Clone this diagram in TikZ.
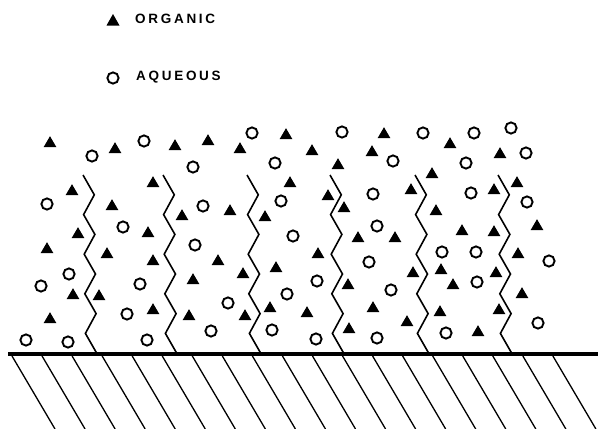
\documentclass[tikz,border=0pt]{standalone}
\usepackage{fontspec}
\newfontfamily\legendfont[LetterSpace=20]{Liberation Sans}

\tikzset{
    organic/.style={fill=black},
    aqueous/.style={line width=1.9pt},
    wavy/.style={line width=1.6pt, line join=miter},
    hatch/.style={line width=1.3pt},
    legend/.style={anchor=west, inner sep=0pt,
        font=\legendfont\fontsize{13.5}{14}\selectfont\bfseries},
}

\begin{document}
\begin{tikzpicture}[x=1pt, y=-1pt]

    \useasboundingbox (0,0) rectangle (598,429);

    % legend
    \fill [organic]
        (106.5,25.5) -- (119.5,25.5) -- (113,14) -- cycle
        ;
    \draw [aqueous]
        (113,78) circle (5.6)
        ;
    \node [legend] (orglabel) at (135,19) {ORGANIC};
    \node [legend] (aqlabel) at (136,77) {AQUEOUS};

    % surface
    \draw [line width=3.2pt]
        (8,354) -- (598,354)
        ;
    \foreach \k in {0,...,18}
        \draw [hatch] (12+30.05*\k,356) -- ++(43,73);

    % chains
    \foreach \xo in {83,163,247,330,415,498}
        \draw [wavy] (\xo,175)
            \foreach \k in {1,...,9} { -- ({\xo+0.3*\k+11*mod(\k,2)},{175+19.8*\k}) }
            ;

    % organic molecules
    \foreach \x/\y in {
        50/142, 115/148, 175/145, 72/190, 153/182, 112/205, 182/215,
        78/233, 148/232, 47/248, 107/253, 153/260, 193/279, 73/294,
        99/295, 50/318, 153/309, 189/315,
        208/140, 240/148, 286/134, 312/150, 384/133, 372/151, 338/164,
        290/182, 230/210, 265/216, 328/195, 344/207, 358/237, 395/237,
        318/253, 218/260, 276/267, 243/273, 348/284, 270/307, 245/315,
        307/312, 373/307, 349/328,
        450/143, 500/153, 432/173, 517/182, 411/189, 494/189, 436/210,
        537/225, 462/230, 494/231, 518/253, 413/272, 441/269, 496/272,
        453/284, 522/293, 440/311, 499/309, 407/321, 478/331}
        \fill [organic] (\x-6.3,\y+5) -- (\x+6.3,\y+5) -- (\x,\y-5.8) -- cycle;

    % aqueous molecules
    \foreach \x/\y in {
        144/141, 92/156, 193/167, 47/204, 123/227, 195/245, 69/274,
        41/286, 140/284, 127/314, 26/340, 68/342, 147/340,
        252/133, 342/132, 275/163, 393/161, 203/206, 281/201, 373/194,
        293/236, 377/226, 369/262, 317/281, 287/294, 391/290, 228/303,
        211/331, 272/330, 316/339, 377/338,
        423/133, 474/133, 511/128, 526/153, 466/163, 471/193, 527/202,
        442/252, 476/252, 549/261, 477/282, 538/323, 446/333}
        \draw [aqueous] (\x,\y) circle (5.6);

\end{tikzpicture}
\end{document}
